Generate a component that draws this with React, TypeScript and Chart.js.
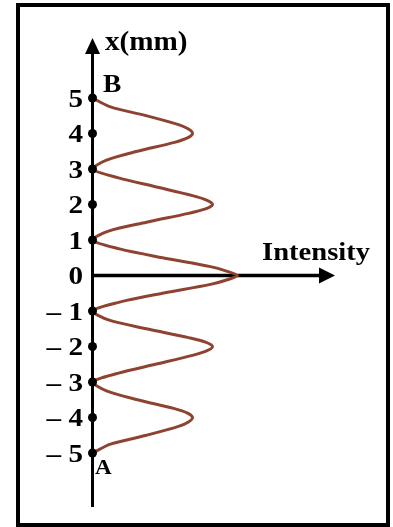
import { useEffect, useRef } from 'react';
import { Chart, registerables } from 'chart.js';

Chart.register(...registerables);

// Position along the screen (mm), from B (top) to A (bottom)
const POSITIONS = [
  5, 4.75, 4.5, 4.25, 4.125, 4, 3.875, 3.75, 3.5, 3.25,
  3, 2.75, 2.5, 2.25, 2.125, 2, 1.875, 1.75, 1.5, 1.25,
  1, 0.75, 0.5, 0.25, 0.125,
  0,
  -0.125, -0.25, -0.5, -0.75, -1,
  -1.25, -1.5, -1.75, -1.875, -2, -2.125, -2.25, -2.5, -2.75, -3,
  -3.25, -3.5, -3.75, -3.875, -4, -4.125, -4.25, -4.5, -4.75, -5,
];
// Relative intensity
const INTENSITY = [
  0, 18, 54, 86, 96, 100, 95, 82, 45, 14,
  0, 26, 63, 100, 114, 120, 113, 96, 54, 16,
  0, 27, 70, 118, 134,
  145,
  134, 118, 70, 27, 0,
  16, 54, 96, 113, 120, 114, 100, 63, 26, 0,
  14, 45, 82, 95, 100, 96, 86, 54, 18, 0,
];

const TICK_VALUES = [5, 4, 3, 2, 1, 0, -1, -2, -3, -4, -5];
const TICK_LABELS = ['5', '4', '3', '2', '1', '0', '– 1', '– 2', '– 3', '– 4', '– 5'];
const DOT_VALUES = [5, 4, 3, 2, 1, -1, -2, -3, -4, -5];

const Y_TITLE = 'x(mm)';
const X_TITLE = 'Intensity';
const TOP_MARK = 'B';
const BOTTOM_MARK = 'A';

const CURVE_COLOR = '#8e4330';
const FONT = '"Liberation Serif", "Times New Roman", serif';

function drawText(
  ctx: CanvasRenderingContext2D,
  text: string,
  x: number,
  y: number,
  size: number,
  align: CanvasTextAlign,
  sx = 1.1
) {
  ctx.save();
  ctx.font = `bold ${size}px ${FONT}`;
  ctx.fillStyle = '#000';
  ctx.textAlign = align;
  ctx.textBaseline = 'alphabetic';
  ctx.translate(x, y);
  ctx.scale(sx, 1);
  ctx.fillText(text, 0, 0);
  ctx.restore();
}

const axesPlugin = {
  id: 'axesPlugin',
  beforeDatasetsDraw(chart: any) {
    const { ctx, chartArea, scales } = chart;
    const xs = scales.x;
    const ys = scales.y;
    const ox = xs.getPixelForValue(0);
    const oy = ys.getPixelForValue(0);
    ctx.save();
    ctx.strokeStyle = '#000';
    ctx.fillStyle = '#000';
    ctx.lineWidth = 3;
    // vertical axis
    ctx.beginPath();
    ctx.moveTo(ox, chartArea.bottom);
    ctx.lineTo(ox, chartArea.top + 12);
    ctx.stroke();
    ctx.beginPath();
    ctx.moveTo(ox, chartArea.top);
    ctx.lineTo(ox - 7.5, chartArea.top + 16);
    ctx.lineTo(ox + 7.5, chartArea.top + 16);
    ctx.closePath();
    ctx.fill();
    // horizontal axis
    ctx.lineWidth = 3.5;
    ctx.beginPath();
    ctx.moveTo(ox, oy);
    ctx.lineTo(chartArea.right - 12, oy);
    ctx.stroke();
    ctx.beginPath();
    ctx.moveTo(chartArea.right, oy);
    ctx.lineTo(chartArea.right - 16, oy - 8);
    ctx.lineTo(chartArea.right - 16, oy + 8);
    ctx.closePath();
    ctx.fill();
    ctx.restore();
  },
  afterDraw(chart: any) {
    const { ctx, chartArea, scales } = chart;
    const xs = scales.x;
    const ys = scales.y;
    const ox = xs.getPixelForValue(0);
    const oy = ys.getPixelForValue(0);
    // dots
    ctx.save();
    ctx.fillStyle = '#000';
    DOT_VALUES.forEach((v) => {
      ctx.beginPath();
      ctx.arc(ox, ys.getPixelForValue(v), 4.5, 0, Math.PI * 2);
      ctx.fill();
    });
    ctx.restore();
    // tick labels
    TICK_VALUES.forEach((v, i) => {
      drawText(ctx, TICK_LABELS[i], ox - 9.5, ys.getPixelForValue(v) + 8.5, 26, 'right', 1.12);
    });
    // titles
    drawText(ctx, Y_TITLE, ox + 12.5, chartArea.top + 12, 27, 'left', 1.08);
    drawText(ctx, X_TITLE, chartArea.right - 73, oy - 16, 26, 'left', 1.1);
    drawText(ctx, TOP_MARK, ox + 10.5, ys.getPixelForValue(5) - 6, 25, 'left', 1.1);
    drawText(ctx, BOTTOM_MARK, ox + 2.5, ys.getPixelForValue(-5) + 21, 21, 'left', 1.1);
    // frame
    ctx.save();
    ctx.strokeStyle = '#000';
    ctx.lineWidth = 4;
    ctx.strokeRect(18, 5, 370, 520);
    ctx.restore();
  },
};

export default function App() {
  const ref = useRef<HTMLCanvasElement>(null);
  useEffect(() => {
    const canvas = ref.current;
    if (!canvas) return;
    const chart = new Chart(canvas, {
      type: 'scatter',
      data: {
        datasets: [
          {
            data: POSITIONS.map((p, i) => ({ x: INTENSITY[i], y: p })),
            showLine: true,
            borderColor: CURVE_COLOR,
            borderWidth: 3,
            pointRadius: 0,
            tension: 0.3,
            clip: false,
          } as any,
        ],
      },
      options: {
        animation: false,
        responsive: false,
        maintainAspectRatio: false,
        layout: { padding: { left: 92.5, right: 58, top: 38, bottom: 20 } },
        scales: {
          x: { type: 'linear', display: false, min: 0, max: 242.5 },
          y: { type: 'linear', display: false, min: -6.52, max: 6.69 },
        },
        plugins: { legend: { display: false }, tooltip: { enabled: false } },
      },
      plugins: [axesPlugin],
    });
    return () => chart.destroy();
  }, []);
  return (
    <div style={{ position: 'absolute', left: 0, top: 0, width: 393, height: 527, background: '#fff' }}>
      <canvas ref={ref} width={393} height={527} style={{ width: 393, height: 527, display: 'block' }} />
    </div>
  );
}
